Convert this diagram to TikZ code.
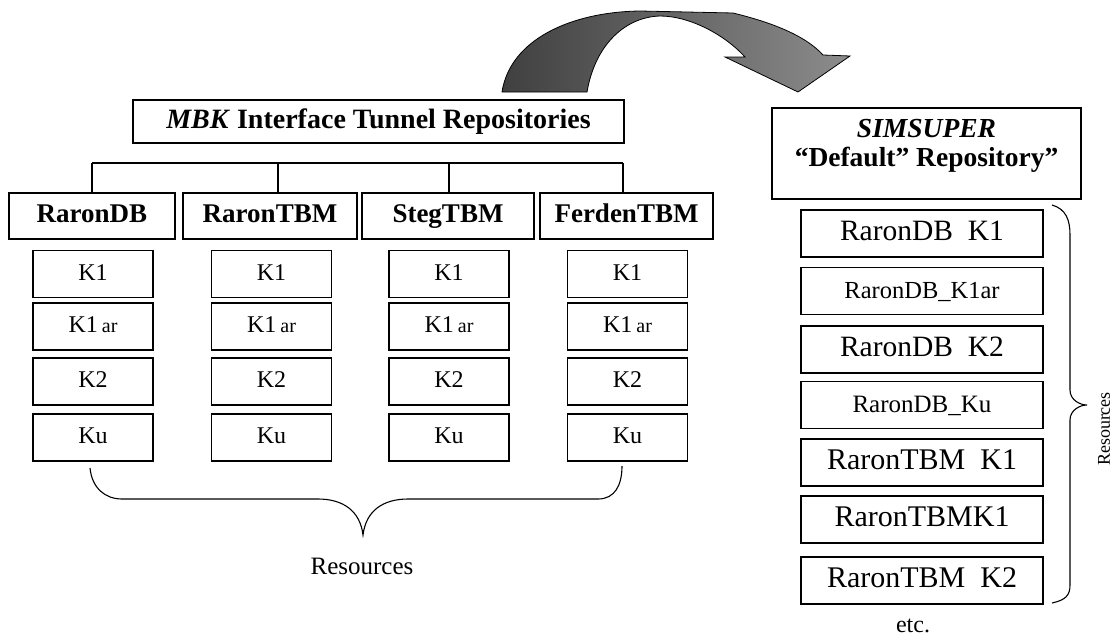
\documentclass[tikz,border=0pt]{standalone}
\usepackage{fontspec}
\setmainfont{Liberation Serif}
\begin{document}
\begin{tikzpicture}[x=1pt,y=-1pt,
  box/.style={draw, line width=1.1pt, inner sep=0pt, align=center},
  catbox/.style={box, minimum height=46pt, text height=19pt, text depth=6pt, font=\fontsize{27}{30}\selectfont\bfseries},
  kbox/.style={box, minimum width=120pt, minimum height=47pt, text height=17pt, text depth=5pt, font=\fontsize{24}{26}\selectfont},
  rbox/.style={box, minimum width=242pt, minimum height=47pt, text height=20pt, text depth=6pt},
  lbl/.style={font=\fontsize{25}{27}\selectfont},
  wire/.style={line width=1.1pt},
  brace/.style={line width=1.1pt}]
\useasboundingbox (0,0) rectangle (1116,637);

% curved arrow
\path[left color=black!75, right color=black!45, draw=black, line width=0.8pt]
  (502,92) .. controls (510,40) and (570,12) .. (640,11) -- (733,13)
  .. controls (770,22) and (805,35) .. (823,55) -- (850,56) -- (798,92)
  -- (725,57) -- (745,57)
  .. controls (725,35) and (690,16) .. (660,16)
  .. controls (625,17) and (595,45) .. (587,92) -- cycle;

% title
\node[box, minimum width=491pt, minimum height=43pt, font=\fontsize{28}{30}\selectfont\bfseries]
  (title) at (378.5,121.5) {\textit{MBK} Interface Tunnel Repositories};

% categories
\node[catbox, minimum width=166pt] (ca) at (92,216) {RaronDB};
\node[catbox, minimum width=174pt] (cb) at (270,216) {RaronTBM};
\node[catbox, minimum width=172pt] (cc) at (448,216) {StegTBM};
\node[catbox, minimum width=173pt] (cd) at (626.5,216) {FerdenTBM};

% bus
\coordinate (busL) at (92,163);
\coordinate (busR) at (623,163);
\draw[wire] (busL) -- (busR);
\draw[wire] (busL) -- (ca.north);
\draw[wire] ([xshift=8pt]cb.north) -- ++(0,-30);
\draw[wire] ([xshift=1pt]cc.north) -- ++(0,-30);
\draw[wire] (busR) -- (busR |- cd.north);

% resource boxes
\foreach \n/\x in {a/93, b/271.5, c/449, d/627.5} {
  \node[kbox] (\n1) at (\x,274) {K1};
  \node[kbox] (\n2) at (\x,326.5) {K1\,{\fontsize{20}{22}\selectfont ar}};
  \node[kbox] (\n3) at (\x,381.5) {K2};
  \node[kbox] (\n4) at (\x,437.5) {Ku};
}

% bottom brace
\draw[brace] (90,468) .. controls (92,488) and (105,499) .. (122,499) -- (318,499)
  .. controls (342,499) and (360,510) .. (363,535)
  .. controls (366,510) and (384,499) .. (408,499) -- (598,499)
  .. controls (615,499) and (622,485) .. (622,466);
\node[lbl] (res1) at (362,566) {Resources};

% SIMSUPER
\node[box, minimum width=309pt, minimum height=91pt] (sim) at (926.5,153.5) {};
\node[align=center, inner sep=0pt, font=\fontsize{27.5}{29}\selectfont\bfseries]
  (simtext) at ([yshift=8pt]sim.center) {\textit{SIMSUPER}\\``Default'' Repository''};

\node[rbox, font=\fontsize{29.5}{30}\selectfont] (r1) at (922,233.5) {RaronDB\ \ K1};
\node[rbox, font=\fontsize{24.5}{26}\selectfont] (r2) at (922,291) {RaronDB\_K1ar};
\node[rbox, font=\fontsize{29.5}{30}\selectfont] (r3) at (922,349.5) {RaronDB\ \ K2};
\node[rbox, font=\fontsize{25}{26}\selectfont] (r4) at (922,405) {RaronDB\_Ku};
\node[rbox, font=\fontsize{30}{32}\selectfont] (r5) at (922,462.5) {RaronTBM\ \ K1};
\node[rbox, font=\fontsize{30}{32}\selectfont] (r6) at (922,519.5) {RaronTBMK1};
\node[rbox, font=\fontsize{30}{32}\selectfont] (r7) at (922,580.5) {RaronTBM\ \ K2};

% right brace
\draw[brace] (1052,205) .. controls (1066,209) and (1070,220) .. (1070,235) -- (1070,390)
  .. controls (1070,400) and (1080,405) .. (1087,405)
  .. controls (1080,405) and (1070,410) .. (1070,420) -- (1070,585)
  .. controls (1070,595) and (1066,600) .. (1052,603);
\node[font=\fontsize{18}{20}\selectfont, rotate=90] (res2) at (1104,429) {Resources};

\node[font=\fontsize{24}{26}\selectfont] (etc) at (913,626) {etc.};
\end{tikzpicture}
\end{document}
